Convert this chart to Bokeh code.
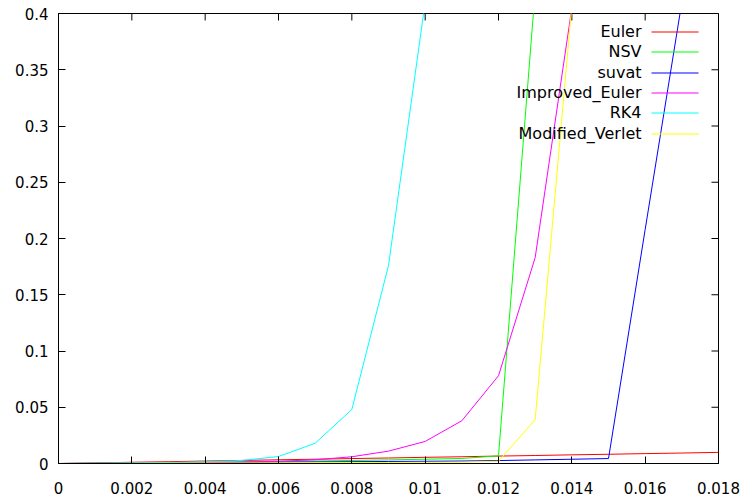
from bokeh.plotting import figure
from bokeh.models import Range1d, LinearAxis, FixedTicker, Label, BoxAnnotation
from bokeh.embed import file_html
from bokeh.resources import INLINE

# ---- data ----
x_vals = [0.000, 0.001, 0.002, 0.003, 0.004, 0.005, 0.006, 0.007, 0.008, 0.009,
          0.010, 0.011, 0.012, 0.013, 0.014, 0.015, 0.016, 0.017, 0.018]

euler = [0.0, 0.0005, 0.0011, 0.0016, 0.0022, 0.0027, 0.0033, 0.0038, 0.0044, 0.0049,
         0.0055, 0.0060, 0.0066, 0.0071, 0.0077, 0.0082, 0.0088, 0.0093, 0.0099]
nsv = [0.0, 0.0002, 0.0005, 0.0008, 0.0011, 0.0014, 0.0018, 0.0022, 0.0027, 0.0032,
       0.0038, 0.0045, 0.0068, 0.42]
suvat = [0.0, 0.0002, 0.0004, 0.0006, 0.0008, 0.0010, 0.0012, 0.0014, 0.0016, 0.0018,
         0.0020, 0.0022, 0.0026, 0.0032, 0.0038, 0.0044, 0.208, 0.41]
improved_euler = [0.0, 0.0001, 0.0003, 0.0005, 0.0008, 0.0013, 0.0020, 0.0033, 0.0060,
                  0.0110, 0.0196, 0.038, 0.078, 0.183, 0.405]
rk4 = [0.0, 0.0002, 0.0005, 0.0009, 0.0014, 0.0027, 0.0062, 0.018, 0.048, 0.176, 0.41]
modified_verlet = [0.0, 0.0001, 0.0002, 0.0003, 0.0004, 0.0005, 0.0006, 0.0007, 0.0008,
                   0.0009, 0.0010, 0.0011, 0.0020, 0.039, 0.407]

series_names = ["Euler", "NSV", "suvat", "Improved_Euler", "RK4", "Modified_Verlet"]
series_values = [euler, nsv, suvat, improved_euler, rk4, modified_verlet]
series_colors = ["#ff0000", "#00ff00", "#0000ff", "#ff00ff", "#00ffff", "#ffff00"]

x_ticks = [0.0, 0.002, 0.004, 0.006, 0.008, 0.010, 0.012, 0.014, 0.016, 0.018]
x_tick_labels = ["0", "0.002", "0.004", "0.006", "0.008", "0.01", "0.012", "0.014", "0.016", "0.018"]
y_ticks = [0.0, 0.05, 0.1, 0.15, 0.2, 0.25, 0.3, 0.35, 0.4]
y_tick_labels = ["0", "0.05", "0.1", "0.15", "0.2", "0.25", "0.3", "0.35", "0.4"]

X_MIN, X_MAX = 0.0, 0.018
Y_MIN, Y_MAX = 0.0, 0.4

FONT = "DejaVu Sans"
FS = "15px"
LEGEND_FS = "16px"

W, H = 745, 498
ML, MR, MT, MB = 58, 27, 13, 35
FW, FH = W - ML - MR, H - MT - MB

p = figure(width=W, height=H, output_backend="svg", toolbar_location=None,
           x_range=Range1d(X_MIN, X_MAX), y_range=Range1d(Y_MIN, Y_MAX),
           x_axis_type=None, y_axis_type=None,
           min_border_left=ML, min_border_right=MR, min_border_top=MT, min_border_bottom=MB)
p.outline_line_color = "black"
p.outline_line_width = 1
p.background_fill_color = "white"
p.border_fill_color = "white"


def make_axis(ticks, labels, standoff):
    ax = LinearAxis(ticker=FixedTicker(ticks=ticks, minor_ticks=[]))
    ax.major_label_overrides = {t: l for t, l in zip(ticks, labels)}
    ax.major_tick_in = 7
    ax.major_tick_out = 0
    ax.minor_tick_in = 0
    ax.minor_tick_out = 0
    ax.axis_line_color = "black"
    ax.major_tick_line_color = "black"
    ax.major_label_text_font = FONT
    ax.major_label_text_font_size = FS
    ax.major_label_text_color = "black"
    ax.major_label_standoff = standoff
    return ax


p.add_layout(make_axis(x_ticks, x_tick_labels, 18), "below")
p.add_layout(make_axis(y_ticks, y_tick_labels, 10), "left")

# mirrored inward ticks on the top and right edges (half of each dash is clipped by the frame)
p.scatter(x_ticks, [Y_MAX] * len(x_ticks), marker="dash", angle=1.5707963, size=14,
          line_color="black", line_width=1)
p.scatter([X_MAX] * len(y_ticks), y_ticks, marker="dash", size=14,
          line_color="black", line_width=1)

for name, ys, col in zip(series_names, series_values, series_colors):
    p.line(x_vals[:len(ys)], ys, line_color=col, line_width=1)

# gnuplot-style key: text right-aligned, sample line to its right
text_right = FW - 77
line_left, line_right = FW - 67, FW - 20
row0 = FH - 18
row_step = 20.3
for i, (name, col) in enumerate(zip(series_names, series_colors)):
    yy = round(row0 - i * row_step)
    p.add_layout(Label(x=text_right, y=yy, x_units="screen", y_units="screen", text=name,
                       text_align="right", text_baseline="middle", text_font=FONT,
                       text_font_size=LEGEND_FS, text_color="black"))
    p.add_layout(BoxAnnotation(left=line_left, right=line_right, bottom=yy - 1, top=yy,
                               left_units="screen", right_units="screen",
                               bottom_units="screen", top_units="screen",
                               fill_color=col, fill_alpha=1.0, line_alpha=0))

open("out.html", "w").write(file_html(p, INLINE))
